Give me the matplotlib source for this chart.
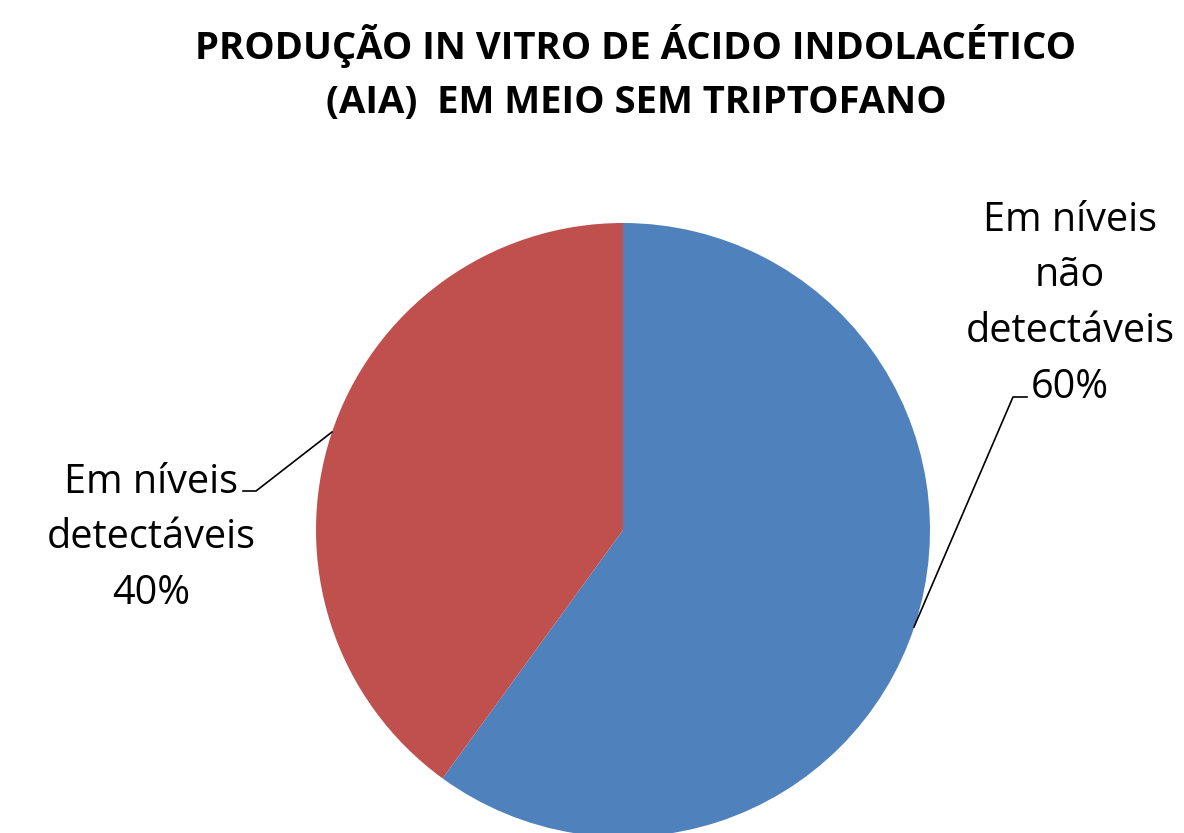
import matplotlib.pyplot as plt

categories = ['Em níveis não detectáveis', 'Em níveis detectáveis']
values = [60, 40]
colors = ['#4F81BD', '#C0504D']

W, H = 1184, 833
fig = plt.figure(figsize=(W / 100, H / 100), dpi=100)
fig.patch.set_facecolor('white')
ax = fig.add_axes([0, 0, 1, 1])

cx, cy, r = 623, H - 530, 307
ax.pie(values, colors=colors, startangle=90, counterclock=False,
       center=(cx, cy), radius=r, wedgeprops=dict(linewidth=0))
ax.set_xlim(0, W)
ax.set_ylim(0, H)
ax.set_aspect('auto')
ax.axis('off')

font = 'Open Sans'

# title
ax.text(636, H - 73, 'PRODUÇÃO IN VITRO DE ÁCIDO INDOLACÉTICO\n(AIA)  EM MEIO SEM TRIPTOFANO',
        ha='center', va='center', fontsize=27.5, fontweight='bold',
        family=font, linespacing=1.58, color='black')

# data labels
ax.text(1070, H - 304, 'Em níveis\nnão\ndetectáveis\n%d%%' % values[0],
        ha='center', va='center', fontsize=28.5, family=font, linespacing=1.5)
ax.text(151, H - 538, 'Em níveis\ndetectáveis\n%d%%' % values[1],
        ha='center', va='center', fontsize=28.5, family=font, linespacing=1.5)

# leader lines
ax.plot([914, 1013, 1027], [H - 627, H - 397, H - 397], color='black', lw=1.2)
ax.plot([243, 256, 332], [H - 491, H - 491, H - 432], color='black', lw=1.2)

fig.savefig('out.png', dpi=100, facecolor='white')
